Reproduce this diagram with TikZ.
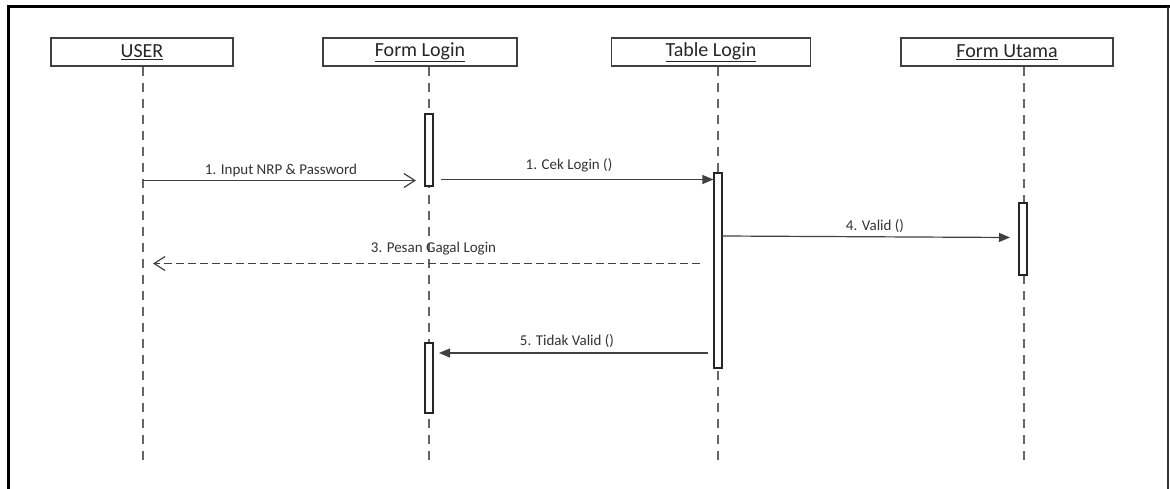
\documentclass[tikz,border=0pt]{standalone}
\usepackage{fontspec}
\setmainfont{Carlito}
\usetikzlibrary{arrows.meta}
\begin{document}
\begin{tikzpicture}[x=1pt,y=-1pt,
  actor/.style={draw=black!75, line width=1.2pt, minimum height=28pt, inner sep=0pt,
    font=\fontsize{20}{24}\selectfont, text=black!85},
  lifeline/.style={draw=black!60, line width=1.5pt, dash pattern=on 9pt off 7pt},
  actbox/.style={draw=black!85, fill=white, line width=1.2pt, minimum width=8pt, inner sep=0pt},
  msg/.style={draw=black!75, line width=1.2pt},
  openhead/.style={-{Straight Barb[length=11pt,width=14pt,line width=1.2pt]}},
  fullhead/.style={-{Triangle[length=11pt,width=9pt]}},
  lbl/.style={font=\fontsize{15}{18}\selectfont, text=black!80, anchor=base, inner sep=0pt}
]
\useasboundingbox (0,0) rectangle (1170,489);
% frame
\draw[line width=3pt, black] (8,489) -- (8,7) -- (1170,7);
\draw[line width=1.5pt, black!80] (1168,7) -- (1168,489);

% actors
\node[actor, minimum width=182pt] (user) at (142,52) {\underline{USER}};
\node[actor, minimum width=194pt] (fl) at (420,52) {\underline{Form Login}};
\node[actor, minimum width=199pt] (tl) at (711,52) {\underline{Table Login}};
\node[actor, minimum width=212pt] (fu) at (1007,52) {\underline{Form Utama}};

% lifelines
\coordinate (uT) at (143,67); \coordinate (uB) at (143,467);
\coordinate (flT) at (429,67); \coordinate (flB) at (429,467);
\coordinate (tlT) at (718,67); \coordinate (tlB) at (718,467);
\coordinate (fuT) at (1024,67); \coordinate (fuB) at (1024,467);
\draw[lifeline] (uT) -- (uB);
\draw[lifeline] (flT) -- (flB);
\draw[lifeline] (tlT) -- (tlB);
\draw[lifeline] (fuT) -- (fuB);

% activations
\node[actbox, minimum height=72pt] (a1) at (429,150) {};
\node[actbox, minimum height=195pt] (a2) at (718,270.5) {};
\node[actbox, minimum height=72pt] (a3) at (1023,239) {};
\node[actbox, minimum height=70pt] (a4) at (429,378) {};

% messages
\coordinate (m1s) at (143,180.5); \coordinate (m1e) at (416,180.5);
\draw[msg, openhead] (m1s) -- (m1e);
\node[lbl] (l1) at (281,175) {1. Input NRP \& Password};

\coordinate (m2s) at (441,179.5);
\draw[msg, fullhead] (m2s) -- (a2.west |- m2s);
\node[lbl] (l2) at (569,170) {1. Cek Login ()};

\coordinate (m3s) at (700,263.5); \coordinate (m3e) at (153,263.5);
\draw[msg, openhead, dash pattern=on 8pt off 4pt] (m3s) -- (m3e);
\node[lbl] (l3) at (433.5,253) {3. Pesan Gagal Login};

\coordinate (m4s) at (722,236); \coordinate (m4e) at (1010,237.5);
\draw[msg, fullhead] (m4s) -- (m4e);
\node[lbl] (l4) at (875,230.5) {4. Valid ()};

\coordinate (m5s) at (708,353); \coordinate (m5e) at (439,353);
\draw[msg, fullhead] (m5s) -- (m5e);
\node[lbl] (l5) at (567,345) {5. Tidak Valid ()};
\end{tikzpicture}
\end{document}
